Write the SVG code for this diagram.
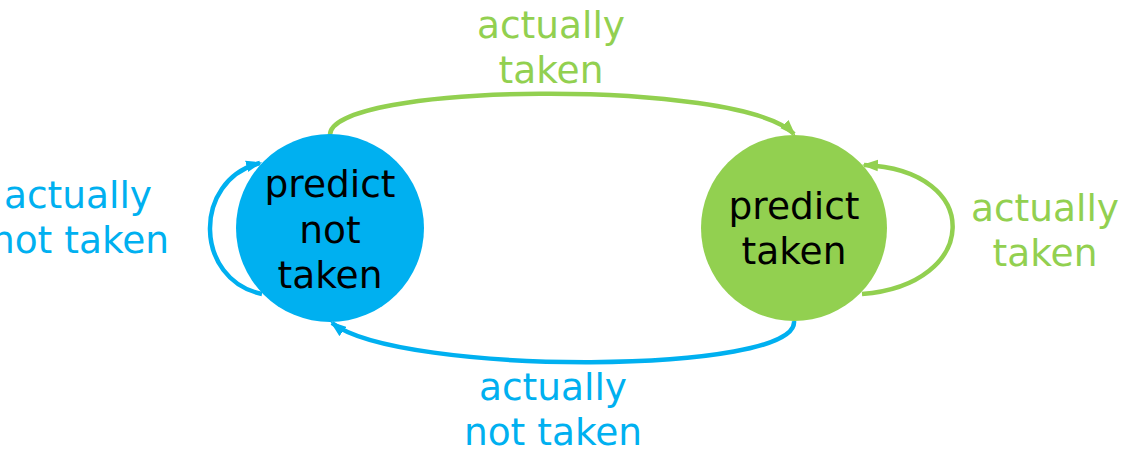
<svg xmlns="http://www.w3.org/2000/svg" width="1127" height="456" viewBox="0 0 1127 456">
<style>
text{font-family:"DejaVu Sans","Liberation Sans",sans-serif;font-size:37.5px;text-anchor:middle}
.b{fill:#00b0f0}.g{fill:#92d050}.k{fill:#000}
.lb{fill:none;stroke:#00b0f0;stroke-width:4.5}
.lg{fill:none;stroke:#92d050;stroke-width:4.5}
</style>
<defs>
<marker id="ag" viewBox="0 0 14 10" refX="12" refY="5" markerWidth="3.6" markerHeight="2.7" orient="auto" markerUnits="strokeWidth"><path d="M0,0L14,5L0,10z" fill="#92d050"/></marker>
<marker id="ab" viewBox="0 0 14 10" refX="12" refY="5" markerWidth="3.6" markerHeight="2.7" orient="auto" markerUnits="strokeWidth"><path d="M0,0L14,5L0,10z" fill="#00b0f0"/></marker>
</defs>
<rect width="1127" height="456" fill="#fff"/>
<g id="connectors">
<path class="lg" d="M330,136 C325,82 740,78 794,134" marker-end="url(#ag)"/>
<path class="lb" d="M794,321 C800,375 400,376 332,323" marker-end="url(#ab)"/>
<path class="lg" d="M862,294 C980,285 985,170 864,165" marker-end="url(#ag)"/>
<path class="lb" d="M262,294 C194,280 192,180 260,163" marker-end="url(#ab)"/>
</g>
<g id="node-not-taken">
<circle cx="330" cy="228" r="94" fill="#00b0f0"/>
<text class="k" x="330" y="197">predict</text>
<text class="k" x="330" y="243">not</text>
<text class="k" x="330" y="288">taken</text>
</g>
<g id="node-taken">
<circle cx="794" cy="228" r="93" fill="#92d050"/>
<text class="k" x="794" y="219">predict</text>
<text class="k" x="794" y="264">taken</text>
</g>
<g id="labels">
<text class="g" x="551" y="38">actually</text>
<text class="g" x="551" y="83">taken</text>
<text class="b" x="78" y="208">actually</text>
<text class="b" x="80" y="253">not taken</text>
<text class="g" x="1045" y="221">actually</text>
<text class="g" x="1045" y="266">taken</text>
<text class="b" x="553" y="400">actually</text>
<text class="b" x="553" y="445">not taken</text>
</g>
</svg>
